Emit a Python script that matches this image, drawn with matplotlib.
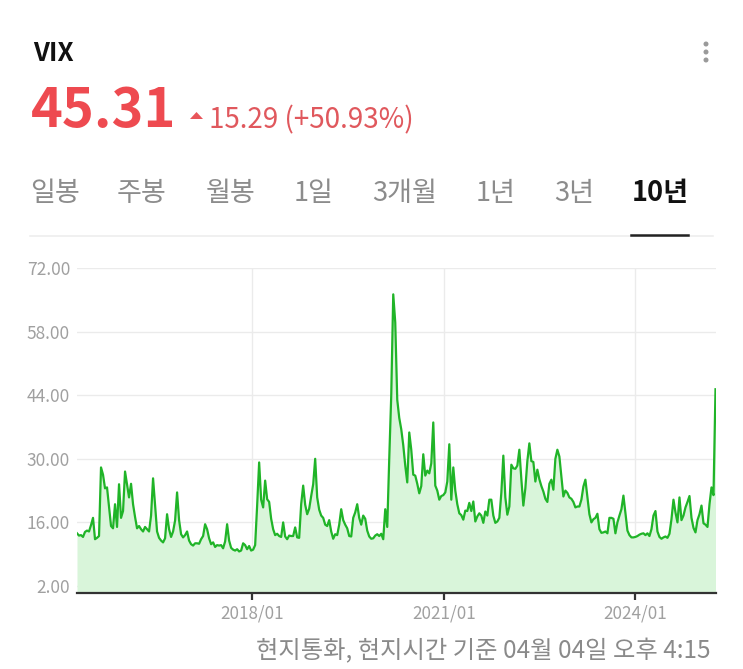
import matplotlib
matplotlib.use("Agg")
import matplotlib.pyplot as plt
import matplotlib.dates as mdates
from matplotlib.patches import Polygon, Ellipse
import numpy as np
import pandas as pd

plt.rcParams['font.family'] = ['Noto Sans CJK KR', 'DejaVu Sans']

# 헤더 정보
symbol = "VIX"
last_price = "45.31"
change_text = "15.29 (+50.93%)"
tabs = ["일봉", "주봉", "월봉", "1일", "3개월", "1년", "3년", "10년"]
active_tab = "10년"
footer = "현지통화, 현지시간 기준 04월 04일 오후 4:15"

# 10년 주가 (그림에서 읽은 값, 약 2015/04 ~ 2025/04)
vix_2015_2017 = [13.6, 13.1, 13.2, 12.8, 13.9, 14.2, 14.0, 15.4, 17.0, 12.3, 12.6, 13.0, 28.1, 26.5, 23.5, 23.7,
                 19.5, 15.2, 14.7, 20.0, 15.0, 24.4, 17.0, 18.5, 27.2, 24.4, 21.5, 24.5, 20.0, 17.2, 14.7, 15.2,
                 14.5, 14.0, 15.0, 14.5, 14.0, 17.5, 25.7, 19.7, 14.0, 12.6, 12.0, 11.6, 12.5, 17.8, 14.5, 12.8,
                 14.0, 16.4, 22.6, 16.5, 13.4, 12.7, 13.2, 14.0, 12.0, 11.2, 10.9, 11.4, 11.4, 11.3, 12.3, 13.0]
vix_2017_2019 = [15.6, 14.5, 12.5, 11.2, 11.6, 10.6, 11.0, 10.9, 11.0, 10.3, 11.8, 15.6, 12.0, 10.4, 10.0, 9.8,
                 10.1, 9.6, 9.8, 11.4, 11.0, 10.1, 10.8, 9.8, 10.0, 11.0, 19.7, 29.2, 21.0, 19.3, 25.2, 21.1,
                 20.5, 16.8, 14.5, 13.2, 13.5, 13.0, 12.8, 16.0, 12.9, 12.3, 13.1, 13.0, 13.0, 14.9, 12.7, 12.6,
                 20.0, 24.1, 19.9, 17.8, 19.0, 21.8, 24.4, 30.0, 21.5, 18.8, 17.5, 17.0, 15.5, 15.2, 16.5]
vix_2019_2021 = [14.0, 12.4, 13.4, 13.2, 15.5, 18.9, 16.5, 15.5, 14.7, 13.0, 12.9, 17.0, 18.2, 20.0, 17.0, 15.5,
                 17.5, 16.8, 14.2, 12.9, 12.4, 12.5, 13.1, 13.4, 13.0, 13.5, 12.3, 18.9, 15.0, 30.0, 44.0, 66.2,
                 60.0, 43.0, 39.0, 36.5, 33.0, 28.5, 24.8, 35.8, 32.0, 26.5, 26.3, 24.5, 22.4, 24.0, 31.0, 26.3,
                 27.4, 26.8, 29.0, 38.0, 24.1, 23.0, 21.0, 21.8, 22.0, 22.6, 25.0, 33.2, 21.0, 28.1, 23.0, 20.0,
                 18.0]
vix_2021_2023 = [17.6, 16.6, 18.6, 18.5, 20.3, 18.5, 20.6, 16.2, 17.3, 18.0, 17.5, 15.9, 18.4, 17.5, 21.0, 21.0,
                 17.5, 15.9, 16.2, 17.0, 22.5, 30.7, 21.5, 17.7, 19.5, 28.7, 27.9, 27.8, 28.5, 32.0, 25.5, 19.7,
                 23.5, 29.5, 33.4, 29.5, 29.3, 25.0, 27.6, 25.5, 24.0, 22.8, 21.2, 20.5, 24.5, 25.4, 23.2, 30.0,
                 32.0, 30.5, 26.0, 21.7, 23.0, 22.5, 21.5, 21.2, 20.5, 19.3, 19.5, 19.5, 21.0, 23.9, 25.4, 21.5]
vix_2023_2025 = [17.8, 16.0, 16.7, 17.0, 17.9, 14.5, 13.7, 13.8, 14.0, 13.6, 17.0, 17.0, 16.8, 13.6, 16.0, 17.5,
                 18.9, 21.9, 18.0, 14.2, 13.2, 12.7, 12.7, 12.8, 13.0, 13.3, 13.5, 13.6, 13.2, 13.6, 13.0, 14.5,
                 17.5, 18.5, 14.0, 12.8, 12.4, 12.7, 12.9, 12.6, 13.5, 16.7, 21.0, 18.2, 16.0, 21.5, 16.5, 17.5,
                 19.3, 20.5, 21.8, 17.0, 14.8, 13.8, 16.5, 17.8, 19.7, 15.8, 15.5, 15.0, 20.0, 23.7, 22.0, 45.31]

start_date = "2015-04-04"
end_date = "2025-04-04"
y_ticks = [2, 16, 30, 44, 58, 72]
x_ticks = ["2018-01-01", "2021-01-01", "2024-01-01"]

vix = np.array(vix_2015_2017 + vix_2017_2019 + vix_2019_2021 + vix_2021_2023 + vix_2023_2025)
dates = pd.date_range(start_date, end_date, periods=len(vix))

W, H = 743, 669
fig = plt.figure(figsize=(W / 100, H / 100), dpi=100)
fig.patch.set_facecolor("white")


def px(x, y):
    # 픽셀 좌표 -> figure 비율
    return x / W, 1 - y / H


# ----- 헤더 -----
fig.text(*px(33, 61), symbol, fontsize=18.5, fontweight="bold", color="#111111", va="baseline")
fig.text(*px(31, 127), last_price, fontsize=39, fontweight="bold", color="#ee4a50", va="baseline")
tri = [px(190, 119), px(203, 119), px(196.5, 112)]
fig.add_artist(Polygon(tri, closed=True, transform=fig.transFigure, color="#e8555a", lw=0))
fig.text(*px(209, 128), change_text, fontsize=20, color="#e0585d", va="baseline")

for yy in (44, 52, 60):
    fig.add_artist(Ellipse(px(706, yy), 5 / W, 5 / H, transform=fig.transFigure, color="#9a9a9a", lw=0))

# ----- 탭 -----
tab_centers = [55, 142, 231, 314, 405, 496, 574, 660]
for name, cx in zip(tabs, tab_centers):
    if name == active_tab:
        fig.text(*px(cx, 201), name, fontsize=19.5, fontweight="bold", color="#111111", ha="center", va="baseline")
    else:
        fig.text(*px(cx, 201), name, fontsize=19.5, color="#8c8c8c", ha="center", va="baseline")

fig.add_artist(plt.Line2D([30 / W, 713 / W], [1 - 236 / H] * 2, transform=fig.transFigure,
                          color="#eeeeee", lw=1.2))
fig.add_artist(plt.Line2D([631 / W, 688 / W], [1 - 235 / H] * 2, transform=fig.transFigure,
                          color="#222222", lw=1.8))

# ----- 차트 -----
ax = fig.add_axes([77 / W, 1 - 593 / H, (715.5 - 77) / W, (593 - 268) / H])
ax.fill_between(dates, vix, 0, color="#d9f5da", lw=0)
ax.plot(dates, vix, color="#20b428", lw=1.6)

ax.set_xlim(dates[0], dates[-1])
ax.set_ylim(0.46, 72)
ax.set_yticks(y_ticks)
ax.set_yticklabels([f"{v:.2f}" for v in y_ticks])
ax.set_xticks(pd.to_datetime(x_ticks))
ax.xaxis.set_major_formatter(mdates.DateFormatter("%Y/%m"))

ax.grid(True, color="#ebebeb", lw=1)
ax.set_axisbelow(True)
for side in ("top", "right", "left"):
    ax.spines[side].set_visible(False)
ax.spines["bottom"].set_color("#333333")
ax.spines["bottom"].set_linewidth(1.6)

ax.tick_params(axis="y", length=0, pad=5, labelsize=12.5, labelcolor="#a0a0a0")
ax.tick_params(axis="x", length=5, width=1.6, color="#333333", pad=3, labelsize=12.3, labelcolor="#a0a0a0")

# ----- 하단 -----
fig.text(*px(710, 658), footer, fontsize=17.5, color="#8a8a8a", ha="right", va="baseline")

fig.savefig("out.png", dpi=100, facecolor="white")
